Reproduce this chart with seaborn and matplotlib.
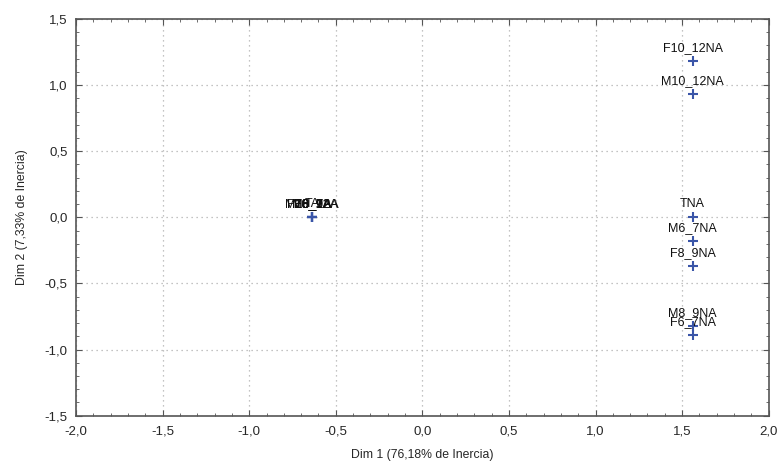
import matplotlib
matplotlib.use("Agg")
import matplotlib.pyplot as plt
import seaborn as sns
import pandas as pd
from matplotlib.ticker import MultipleLocator, FuncFormatter

labels = ["F10_12NA", "M10_12NA", "TNA", "M6_7NA", "F8_9NA", "M8_9NA", "F6_7NA",
          "F10_12A", "M10_12A", "TA", "M6_7A", "F8_9A", "M8_9A", "F6_7A"]
dim1 = [1.56, 1.56, 1.56, 1.56, 1.56, 1.56, 1.56,
        -0.636, -0.636, -0.636, -0.636, -0.636, -0.636, -0.636]
dim2 = [1.18, 0.93, 0.0, -0.18, -0.37, -0.82, -0.89,
        0.0, 0.0, 0.0, 0.0, 0.0, 0.0, 0.0]

df = pd.DataFrame({"label": labels, "dim1": dim1, "dim2": dim2})

sns.set_style("ticks")
plt.rcParams["font.family"] = ["Liberation Sans", "DejaVu Sans"]

fig = plt.figure(figsize=(7.82, 4.67), dpi=100)
ax = fig.add_axes([0.0972, 0.1099, 0.9830 - 0.0972, 0.9593 - 0.1099])

sns.scatterplot(data=df, x="dim1", y="dim2", marker="+", s=55, color="#3a55a8",
                linewidth=1.5, ax=ax, zorder=3, legend=False)

for lab, xv, yv in zip(df["label"], df["dim1"], df["dim2"]):
    ax.annotate(lab, (xv, yv), xytext=(0, 5), textcoords="offset points",
                ha="center", va="bottom", fontsize=9, color="#111111")

ax.set_xlim(-2.0, 2.0)
ax.set_ylim(-1.5, 1.5)
ax.xaxis.set_major_locator(MultipleLocator(0.5))
ax.yaxis.set_major_locator(MultipleLocator(0.5))
ax.xaxis.set_minor_locator(MultipleLocator(0.1))
ax.yaxis.set_minor_locator(MultipleLocator(0.1))
fmt = FuncFormatter(lambda v, p: f"{v:.1f}".replace(".", ","))
ax.xaxis.set_major_formatter(fmt)
ax.yaxis.set_major_formatter(fmt)

ax.tick_params(which="both", direction="in", top=True, right=True, color="#555555")
ax.tick_params(which="major", length=4, labelsize=9.5)
ax.tick_params(axis="x", which="major", pad=7)
ax.tick_params(axis="y", which="major", pad=6)
ax.tick_params(which="minor", length=2.5)
ax.grid(True, which="major", linestyle=(0, (1, 3)), color="#b0b0b0", linewidth=0.9)
for s in ax.spines.values():
    s.set_color("#555555")
    s.set_linewidth(1.2)

ax.set_xlabel("Dim 1 (76,18% de Inercia)", fontsize=8.8, labelpad=8)
ax.set_ylabel("Dim 2 (7,33% de Inercia)", fontsize=8.8, labelpad=12)

fig.savefig("out.png", dpi=100)
